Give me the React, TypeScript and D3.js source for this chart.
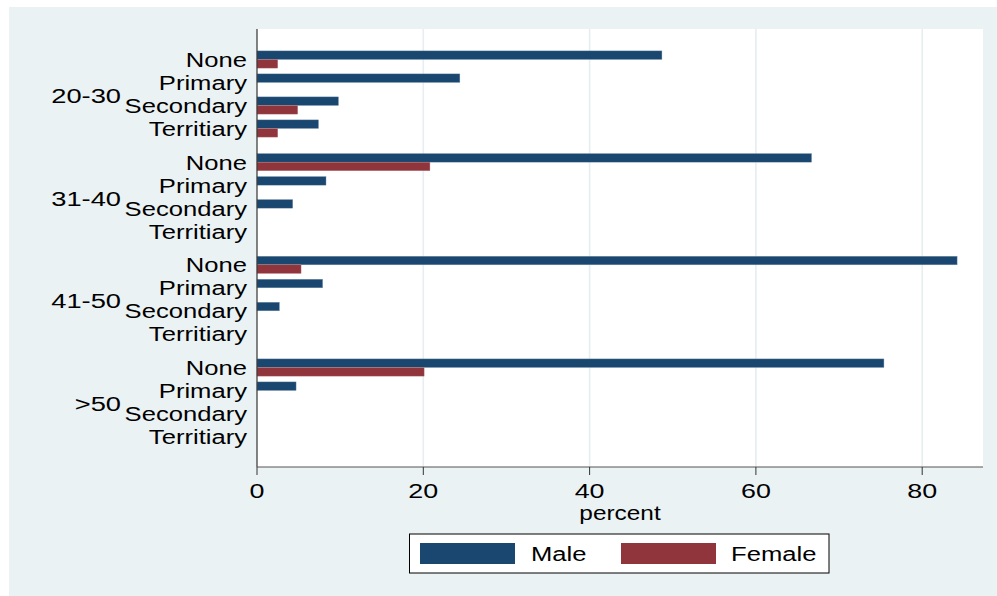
import React from "react";
import * as d3 from "d3";

const ageGroups = ["20-30", "31-40", "41-50", ">50"];
const education = ["None", "Primary", "Secondary", "Territiary"];
const maleValues = [
  [48.7, 24.4, 9.8, 7.4],
  [66.7, 8.3, 4.3, 0],
  [84.2, 7.9, 2.7, 0],
  [75.4, 4.7, 0, 0],
];
const femaleValues = [
  [2.5, 0, 4.9, 2.5],
  [20.8, 0, 0, 0],
  [5.3, 0, 0, 0],
  [20.1, 0, 0, 0],
];
const xTicks = [0, 20, 40, 60, 80];
const seriesNames = ["Male", "Female"];
const seriesColors = ["#1a476f", "#90353b"];

const W = 997;
const H = 596;
const plot = { left: 257, right: 983, top: 29, bottom: 467 };
const SX = 1.22;
const FONT = "Arial, 'Liberation Sans', Helvetica, sans-serif";

function SText({ x, y, anchor, children, size = 21, sx = SX }: any) {
  return (
    <text
      transform={`translate(${x},${y}) scale(${sx},1)`}
      textAnchor={anchor}
      fontSize={size}
      fontFamily={FONT}
      fill="#000"
    >
      {children}
    </text>
  );
}

export default function App() {
  const x = d3.scaleLinear().domain([0, 20]).range([plot.left, plot.left + 166.3]);
  const yGroup = d3
    .scaleBand<string>()
    .domain(ageGroups)
    .range([plot.top, plot.bottom])
    .paddingInner(0.104)
    .paddingOuter(0.185);
  const yRow = d3
    .scaleBand<string>()
    .domain(education)
    .range([0, yGroup.bandwidth()])
    .paddingInner(0.25)
    .paddingOuter(0.125);
  const ySeries = d3.scaleBand<string>().domain(seriesNames).range([0, yRow.bandwidth()]);

  return (
    <svg
      width={W}
      height={H}
      style={{ position: "absolute", left: 0, top: 0, background: "#fff" }}
    >
      <rect x={9} y={7} width={W - 9} height={H - 7} fill="#eaf2f3" />
      <rect
        x={plot.left}
        y={plot.top}
        width={plot.right - plot.left}
        height={plot.bottom - plot.top}
        fill="#fff"
      />
      {xTicks
        .filter((t) => t > 0)
        .map((t) => (
          <line
            key={"g" + t}
            x1={x(t)}
            x2={x(t)}
            y1={plot.top}
            y2={plot.bottom}
            stroke="#e6eef1"
            strokeWidth={1.6}
          />
        ))}
      {ageGroups.map((g, gi) =>
        education.map((e, ei) => {
          const y0 = (yGroup(g) as number) + (yRow(e) as number);
          const vals = [maleValues[gi][ei], femaleValues[gi][ei]];
          return vals.map((v, si) =>
            v > 0 ? (
              <rect
                key={`${g}-${e}-${si}`}
                x={x(0)}
                y={y0 + (ySeries(seriesNames[si]) as number)}
                width={x(v) - x(0)}
                height={ySeries.bandwidth()}
                fill={seriesColors[si]}
                stroke={si === 0 ? "#8aa0b4" : "#c08a8d"}
                strokeWidth={0.4}
              />
            ) : null
          );
        })
      )}
      {/* axes */}
      <line x1={plot.left} x2={plot.left} y1={plot.top} y2={plot.bottom} stroke="#333" strokeWidth={1.2} />
      <line x1={plot.left} x2={plot.right} y1={plot.bottom} y2={plot.bottom} stroke="#555" strokeWidth={1.2} />
      {xTicks.map((t) => (
        <g key={"t" + t}>
          <line x1={x(t)} x2={x(t)} y1={plot.bottom} y2={plot.bottom + 8} stroke="#333" strokeWidth={1} />
          <SText x={x(t)} y={498} anchor="middle" sx={1.28}>
            {t}
          </SText>
        </g>
      ))}
      <SText x={(plot.left + plot.right) / 2} y={520} anchor="middle" size={20}>
        percent
      </SText>
      {/* y labels */}
      {ageGroups.map((g) => (
        <g key={"l" + g}>
          <SText x={121} y={(yGroup(g) as number) + yGroup.bandwidth() / 2 + 9} anchor="end" sx={1.3}>
            {g}
          </SText>
          {education.map((e) => (
            <SText
              key={g + e}
              x={247}
              y={(yGroup(g) as number) + (yRow(e) as number) + yRow.bandwidth() / 2 + 7.5}
              anchor="end"
            >
              {e}
            </SText>
          ))}
        </g>
      ))}
      {/* legend */}
      <rect x={409.5} y={534} width={419.5} height={39} fill="#fff" stroke="#000" strokeWidth={1} />
      <rect x={420} y={543} width={95} height={21} fill={seriesColors[0]} />
      <SText x={531} y={561} anchor="start">
        {seriesNames[0]}
      </SText>
      <rect x={621} y={543} width={95} height={21} fill={seriesColors[1]} />
      <SText x={731} y={561} anchor="start">
        {seriesNames[1]}
      </SText>
    </svg>
  );
}
